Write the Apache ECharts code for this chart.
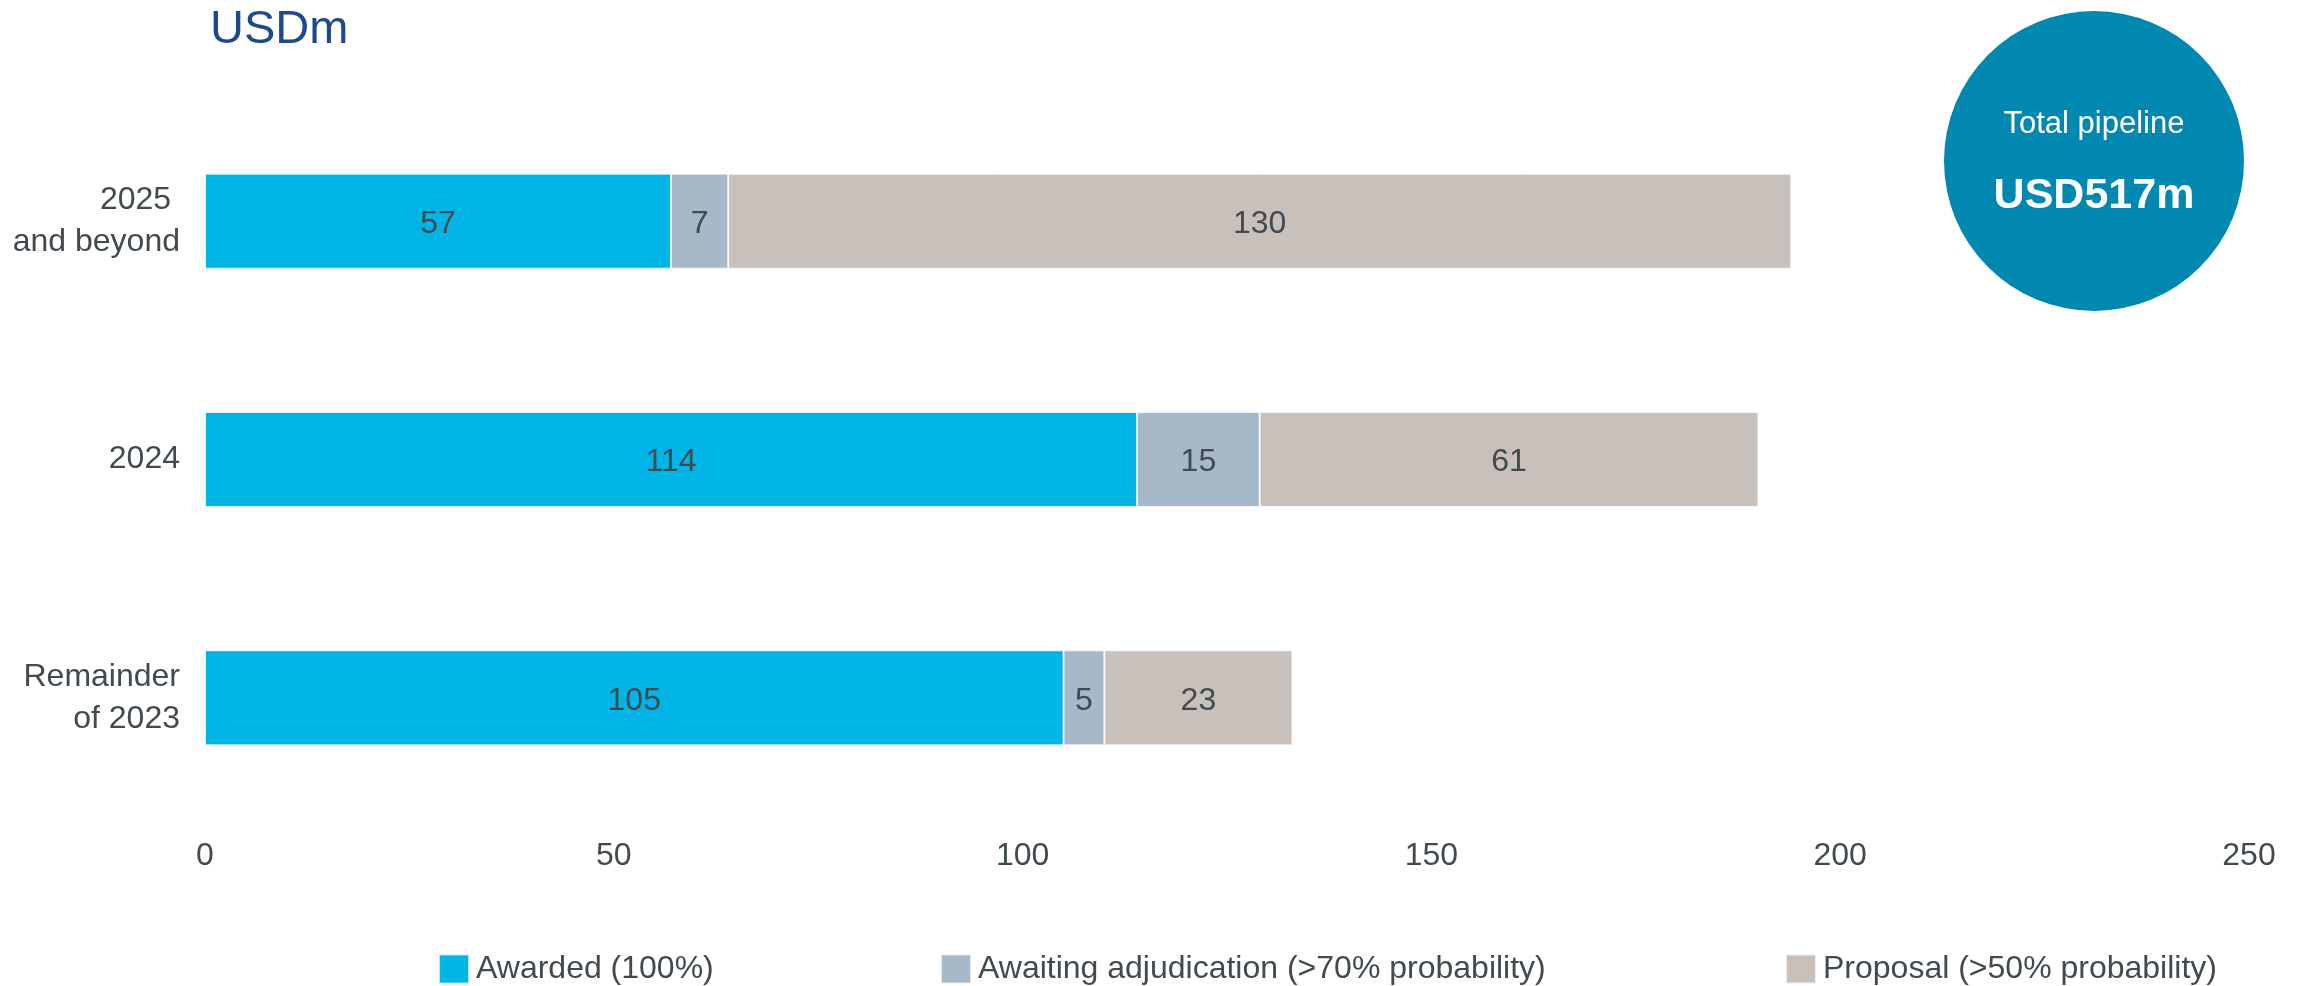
<!DOCTYPE html>
<html>
<head>
<meta charset="utf-8">
<script src="https://cdn.jsdelivr.net/npm/echarts@6/dist/echarts.min.js"></script>
<style>
  html, body { margin: 0; padding: 0; background: #ffffff; }
  #chart { width: 2303px; height: 986px; }
</style>
</head>
<body>
<div id="chart"></div>
<script>
// Pipeline by period, USD millions
const categories = ['Remainder\nof 2023', '2024', '2025 \nand beyond'];
const awarded = [105, 114, 57];
const awaiting = [5, 15, 7];
const proposal = [23, 61, 130];
const seriesNames = ['Awarded (100%)', 'Awaiting adjudication (>70% probability)', 'Proposal (>50% probability)'];
const xTicks = [0, 50, 100, 150, 200, 250];
const totalText = 'USD517m';

const FONT = '"Liberation Sans", Arial, sans-serif';
const TEXT = '#404a4f';
const colors = ['#00b5e6', '#a7b9c9', '#c8c0ba'];

const chart = echarts.init(document.getElementById('chart'), null, { renderer: 'canvas' });

function barSeries(name, data, color) {
  return {
    name: name,
    type: 'bar',
    stack: 'total',
    barWidth: 95,
    data: data,
    itemStyle: { color: color, borderColor: 'rgba(255,255,255,0.7)', borderWidth: 1 },
    label: {
      show: true,
      position: 'inside',
      offset: [0, 3],
      color: TEXT,
      fontFamily: FONT,
      fontSize: 32
    },
    emphasis: { disabled: true }
  };
}

function legendAt(left, name) {
  return {
    left: left,
    top: 953,
    padding: 0,
    data: [name],
    icon: 'rect',
    itemWidth: 30,
    itemHeight: 29,
    itemGap: 0,
    selectedMode: false,
    textStyle: { color: TEXT, fontFamily: FONT, fontSize: 32, padding: [0, 0, 0, 2] }
  };
}

const option = {
  backgroundColor: '#ffffff',
  animation: false,
  title: {
    text: 'USDm',
    left: 205,
    top: 2,
    textStyle: { color: '#1f4a8a', fontFamily: FONT, fontSize: 47, fontWeight: 'normal' }
  },
  legend: [
    legendAt(438, seriesNames[0]),
    legendAt(940, seriesNames[1]),
    legendAt(1785, seriesNames[2])
  ],
  grid: { left: 205, right: 54, top: 102, bottom: 169, containLabel: false },
  xAxis: {
    type: 'value',
    min: 0,
    max: 250,
    interval: 50,
    axisLine: { show: false },
    axisTick: { show: false },
    splitLine: { show: false },
    axisLabel: {
      color: TEXT,
      fontFamily: FONT,
      fontSize: 32,
      margin: 23,
      formatter: function (v) { return xTicks.indexOf(v) >= 0 ? String(v) : ''; }
    }
  },
  yAxis: {
    type: 'category',
    data: categories,
    axisLine: { show: false },
    axisTick: { show: false },
    splitLine: { show: false },
    axisLabel: {
      color: TEXT,
      fontFamily: FONT,
      fontSize: 32,
      lineHeight: 42,
      align: 'right',
      margin: 25
    }
  },
  graphic: [
    {
      type: 'circle',
      shape: { cx: 2094, cy: 161, r: 150 },
      style: { fill: '#0088b0' },
      silent: true
    },
    {
      type: 'text',
      x: 2094,
      y: 124,
      style: {
        text: 'Total pipeline',
        fill: '#ffffff',
        font: '31px ' + FONT,
        align: 'center',
        verticalAlign: 'middle'
      },
      silent: true
    },
    {
      type: 'text',
      x: 2094,
      y: 196,
      style: {
        text: totalText,
        fill: '#ffffff',
        font: 'bold 43px ' + FONT,
        align: 'center',
        verticalAlign: 'middle'
      },
      silent: true
    }
  ],
  series: [
    barSeries(seriesNames[0], awarded, colors[0]),
    barSeries(seriesNames[1], awaiting, colors[1]),
    barSeries(seriesNames[2], proposal, colors[2])
  ]
};

chart.setOption(option);
</script>
</body>
</html>
